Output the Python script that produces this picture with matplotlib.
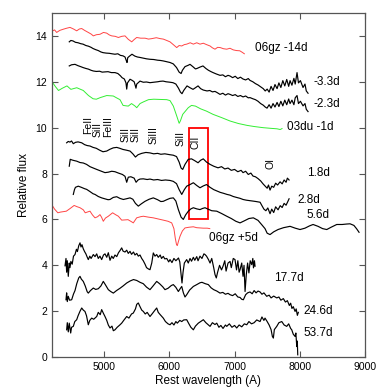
import matplotlib
matplotlib.use("Agg")
import matplotlib.pyplot as plt
from matplotlib.patches import Rectangle

plt.rcParams['font.family'] = ['Liberation Sans', 'DejaVu Sans']

# ---------------- data ----------------
wl_06gz_m14 = [4211, 4240, 4272, 4320, 4373, 4420, 4476, 4530, 4579, 4620, 4656, 4700, 4757, 4800, 4834, 4880,
               4936, 4990, 5039, 5080, 5116, 5170, 5218, 5270, 5320, 5370, 5423, 5460, 5499, 5560, 5627, 5680,
               5730, 5800, 5860, 5907, 5960, 6010, 6060, 6113, 6150, 6190, 6230, 6266, 6320, 6368, 6420, 6470,
               6521, 6570, 6624, 6660, 6700, 6740, 6780, 6830, 6880, 6930, 6980, 7030, 7080, 7120, 7150]
fx_06gz_m14 = [14.22, 14.26, 14.15, 14.24, 14.29, 14.33, 14.37, 14.30, 14.22, 14.30, 14.32, 14.24, 14.15, 14.08, 14.00, 14.05,
               14.07, 14.15, 14.12, 14.04, 14.00, 13.98, 13.93, 13.98, 14.00, 13.85, 13.74, 13.84, 13.93, 13.90, 13.90, 13.86,
               13.88, 13.92, 13.88, 13.86, 13.80, 13.74, 13.62, 13.49, 13.58, 13.56, 13.62, 13.64, 13.70, 13.64, 13.70, 13.64,
               13.68, 13.62, 13.56, 13.48, 13.42, 13.50, 13.49, 13.44, 13.42, 13.46, 13.39, 13.36, 13.35, 13.28, 13.22]

wl_m33 = [4465, 4490, 4522, 4560, 4600, 4640, 4676, 4720, 4760, 4800, 4829, 4870, 4910, 4950, 4982, 5030, 5080, 5120,
          5166, 5210, 5250, 5289, 5320, 5340, 5351, 5362, 5390, 5427, 5470, 5510, 5550, 5600, 5650, 5703, 5760, 5820,
          5860, 5903, 5950, 6010, 6060, 6110, 6150, 6180, 6200, 6240, 6290, 6317, 6360, 6400, 6424, 6470, 6516, 6560,
          6600, 6640, 6670, 6720, 6777, 6820, 6860, 6900, 6931, 6970, 7010, 7050, 7090, 7130, 7170, 7210, 7237, 7280,
          7320, 7360, 7400, 7440, 7470, 7500, 7530, 7560, 7590, 7620, 7652, 7680, 7710, 7740, 7770, 7800, 7830, 7851,
          7880, 7910, 7930, 7958, 7980, 8010, 8050, 8080, 8100, 8127]
fx_m33 = [13.74, 13.80, 13.78, 13.72, 13.70, 13.66, 13.64, 13.58, 13.55, 13.50, 13.45, 13.40, 13.36, 13.30, 13.27, 13.25,
          13.24, 13.22, 13.20, 13.22, 13.15, 13.13, 13.08, 12.92, 12.84, 13.05, 13.12, 13.20, 13.12, 13.08, 13.06, 13.03,
          13.00, 12.98, 12.97, 12.94, 12.93, 12.91, 12.88, 12.84, 12.78, 12.62, 12.42, 12.36, 12.50, 12.66, 12.72, 12.76,
          12.66, 12.56, 12.58, 12.64, 12.69, 12.58, 12.50, 12.44, 12.40, 12.34, 12.28, 12.30, 12.22, 12.28, 12.25, 12.18,
          12.24, 12.14, 12.20, 12.12, 12.08, 12.14, 12.06, 12.00, 11.92, 11.86, 11.78, 11.70, 11.60, 11.68, 11.55, 11.80,
          11.62, 11.88, 11.70, 11.95, 11.75, 12.05, 11.82, 12.10, 11.80, 12.05, 11.85, 12.15, 11.90, 12.40, 11.95, 12.05,
          11.75, 11.90, 11.60, 11.50]

wl_m23 = [4465, 4500, 4553, 4600, 4640, 4676, 4720, 4760, 4800, 4834, 4880, 4930, 4970, 5013, 5060, 5110, 5166, 5210,
          5250, 5274, 5310, 5335, 5346, 5358, 5397, 5430, 5460, 5476, 5488, 5500, 5550, 5600, 5650, 5703, 5760, 5820,
          5860, 5903, 5950, 6010, 6056, 6100, 6140, 6170, 6194, 6220, 6271, 6317, 6363, 6400, 6440, 6480, 6520, 6578,
          6620, 6660, 6700, 6732, 6777, 6820, 6860, 6900, 6931, 6970, 7010, 7050, 7090, 7130, 7170, 7210, 7237, 7280,
          7320, 7360, 7400, 7440, 7470, 7498, 7530, 7560, 7590, 7620, 7652, 7680, 7710, 7740, 7770, 7800, 7830, 7851,
          7880, 7910, 7930, 7958, 7980, 8010, 8050, 8080, 8100, 8127]
fx_m23 = [12.69, 12.74, 12.76, 12.70, 12.66, 12.62, 12.58, 12.55, 12.50, 12.47, 12.45, 12.46, 12.42, 12.43, 12.44, 12.40,
          12.40, 12.36, 12.26, 12.18, 12.12, 11.95, 11.68, 11.95, 12.11, 12.06, 12.00, 11.85, 11.72, 11.90, 12.03, 11.98,
          11.99, 11.96, 11.98, 12.00, 12.02, 12.03, 12.00, 11.98, 11.96, 11.90, 11.72, 11.55, 11.48, 11.62, 11.82, 11.74,
          11.67, 11.74, 11.82, 11.70, 11.64, 11.60, 11.62, 11.56, 11.58, 11.53, 11.45, 11.50, 11.42, 11.48, 11.45, 11.40,
          11.44, 11.36, 11.40, 11.34, 11.38, 11.30, 11.31, 11.26, 11.22, 11.15, 11.05, 10.98, 10.90, 10.85, 11.00, 10.85,
          11.05, 10.90, 11.10, 10.92, 11.15, 10.95, 11.20, 11.00, 11.25, 11.05, 11.20, 11.00, 11.30, 11.40, 11.05, 11.15,
          10.95, 11.05, 10.80, 10.70]

wl_03du = [4211, 4250, 4300, 4360, 4430, 4490, 4580, 4680, 4760, 4830, 4880, 4940, 5040, 5140, 5190, 5243, 5290, 5340,
           5370, 5420, 5470, 5500, 5550, 5600, 5680, 5760, 5860, 5960, 6010, 6061, 6113, 6150, 6170, 6205, 6290, 6340,
           6400, 6480, 6570, 6670, 6800, 6931, 7060, 7191, 7300, 7437, 7560, 7650, 7700, 7728]
fx_03du = [11.96, 11.80, 11.62, 11.72, 11.82, 11.67, 11.74, 11.62, 11.40, 11.26, 11.24, 11.31, 11.40, 11.38, 11.30, 11.22,
           10.97, 10.95, 10.94, 11.05, 10.95, 10.87, 11.05, 11.12, 11.22, 11.24, 11.23, 11.22, 11.18, 10.94, 10.51, 10.19,
           10.30, 10.58, 10.87, 10.97, 10.94, 10.82, 10.72, 10.58, 10.44, 10.29, 10.18, 10.10, 10.05, 10.00, 9.97, 9.95,
           9.92, 9.96]

wl_18 = [4425, 4450, 4476, 4500, 4527, 4560, 4600, 4656, 4700, 4740, 4783, 4830, 4880, 4930, 4982, 5039, 5090, 5140,
         5193, 5240, 5289, 5340, 5397, 5440, 5480, 5520, 5576, 5640, 5703, 5760, 5820, 5870, 5930, 6010, 6060, 6110,
         6150, 6180, 6205, 6240, 6290, 6340, 6390, 6440, 6480, 6520, 6570, 6624, 6680, 6746, 6800, 6850, 6900, 6950,
         7000, 7050, 7100, 7130, 7170, 7210, 7250, 7283, 7320, 7360, 7400, 7437, 7470, 7500, 7520, 7544, 7570, 7600,
         7630, 7660, 7698, 7730, 7760, 7790, 7810, 7836]
fx_18 = [9.34, 9.40, 9.37, 9.42, 9.30, 9.36, 9.38, 9.34, 9.26, 9.22, 9.20, 9.14, 9.10, 9.02, 8.95, 8.98, 9.06, 9.12,
         9.14, 9.10, 9.05, 9.02, 8.98, 8.86, 8.72, 8.82, 8.88, 8.92, 8.90, 8.86, 8.88, 8.84, 8.86, 8.82, 8.80, 8.74,
         8.50, 8.24, 8.18, 8.40, 8.62, 8.64, 8.56, 8.47, 8.58, 8.64, 8.50, 8.40, 8.32, 8.25, 8.30, 8.20, 8.24, 8.14,
         8.18, 8.08, 8.14, 8.04, 8.10, 7.96, 8.02, 7.89, 7.86, 7.78, 7.68, 7.55, 7.45, 7.36, 7.50, 7.28, 7.45, 7.40,
         7.58, 7.50, 7.64, 7.55, 7.72, 7.62, 7.80, 7.72]

wl_28 = [4465, 4480, 4520, 4579, 4630, 4680, 4730, 4783, 4834, 4886, 4940, 5013, 5064, 5116, 5166, 5220, 5280, 5320,
         5346, 5370, 5410, 5460, 5490, 5520, 5550, 5600, 5660, 5703, 5760, 5820, 5880, 5940, 6010, 6060, 6110, 6150,
         6190, 6230, 6266, 6317, 6368, 6420, 6470, 6520, 6570, 6624, 6680, 6730, 6780, 6830, 6885, 6930, 6980, 7030,
         7084, 7130, 7180, 7230, 7283, 7330, 7391, 7420, 7450, 7480, 7510, 7544, 7570, 7600, 7630, 7667, 7700, 7730,
         7760, 7790, 7820, 7836]
fx_28 = [8.32, 8.62, 8.58, 8.54, 8.48, 8.46, 8.40, 8.30, 8.24, 8.18, 8.12, 8.04, 8.06, 8.10, 8.08, 8.02, 7.96, 7.88,
         7.62, 7.84, 7.86, 7.80, 7.62, 7.72, 7.76, 7.77, 7.74, 7.76, 7.72, 7.74, 7.70, 7.72, 7.70, 7.66, 7.56, 7.30,
         7.09, 7.30, 7.45, 7.52, 7.60, 7.48, 7.38, 7.46, 7.52, 7.40, 7.30, 7.24, 7.18, 7.14, 7.09, 7.06, 7.00, 6.96,
         6.92, 6.87, 6.84, 6.82, 6.80, 6.78, 6.75, 6.60, 6.45, 6.38, 6.50, 6.25, 6.45, 6.30, 6.55, 6.42, 6.60, 6.52,
         6.70, 6.62, 6.80, 6.90]

wl_56 = [4527, 4545, 4560, 4603, 4650, 4700, 4732, 4780, 4830, 4860, 4910, 4962, 5010, 5060, 5090, 5140, 5193, 5240,
         5294, 5340, 5397, 5440, 5480, 5524, 5570, 5627, 5690, 5754, 5820, 5870, 5907, 5960, 6010, 6061, 6100, 6138,
         6180, 6214, 6250, 6291, 6330, 6368, 6420, 6470, 6510, 6547, 6600, 6650, 6727, 6800, 6880, 6950, 7020, 7084,
         7150, 7220, 7288, 7360, 7420, 7467, 7500, 7544, 7600, 7667, 7750, 7851, 7930, 8004, 8080, 8150, 8204, 8280,
         8350, 8414, 8480, 8567, 8650, 8720, 8771, 8830, 8870, 8909]
fx_56 = [7.09, 7.30, 7.40, 7.45, 7.40, 7.34, 7.31, 7.22, 7.12, 7.09, 7.00, 6.94, 6.90, 6.86, 6.87, 6.96, 6.99, 6.92,
         6.87, 6.90, 6.94, 6.88, 6.70, 6.58, 6.68, 6.79, 6.88, 6.94, 6.86, 6.78, 6.79, 6.86, 6.92, 6.94, 6.80, 6.43,
         6.10, 6.00, 6.20, 6.36, 6.46, 6.51, 6.46, 6.43, 6.48, 6.51, 6.44, 6.38, 6.36, 6.26, 6.14, 6.04, 5.92, 5.85,
         5.94, 6.04, 6.07, 5.96, 5.76, 5.60, 5.40, 5.34, 5.46, 5.56, 5.64, 5.70, 5.62, 5.56, 5.62, 5.72, 5.78, 5.70,
         5.60, 5.56, 5.66, 5.78, 5.78, 5.80, 5.81, 5.74, 5.60, 5.44]

wl_06gz_p5 = [4211, 4240, 4290, 4330, 4420, 4480, 4540, 4580, 4630, 4680, 4710, 4740, 4783, 4820, 4860, 4900, 4936,
              4960, 4987, 5020, 5064, 5130, 5180, 5218, 5269, 5320, 5366, 5420, 5447, 5499, 5560, 5601, 5680, 5754,
              5830, 5907, 5980, 6036, 6070, 6090, 6110, 6122, 6140, 6164, 6200, 6240, 6300, 6368, 6420, 6470, 6520,
              6580, 6620]
fx_06gz_p5 = [6.58, 6.45, 6.29, 6.32, 6.36, 6.48, 6.61, 6.56, 6.51, 6.42, 6.29, 6.32, 6.36, 6.20, 6.07, 6.12, 6.21,
              6.10, 5.92, 6.06, 6.14, 6.29, 6.20, 6.14, 5.97, 5.98, 5.99, 5.90, 5.85, 6.07, 6.12, 6.14, 6.10, 6.07,
              6.02, 5.97, 5.92, 5.85, 5.60, 5.20, 4.90, 4.86, 5.05, 5.27, 5.50, 5.63, 5.66, 5.68, 5.64, 5.63, 5.62,
              5.62, 5.60]

wl_177 = [4400, 4415, 4425, 4435, 4450, 4465, 4476, 4490, 4510, 4530, 4553, 4575, 4590, 4610, 4630, 4645, 4660, 4680,
          4700, 4720, 4740, 4757, 4780, 4800, 4834, 4860, 4886, 4910, 4936, 4962, 4990, 5013, 5040, 5064, 5090, 5116,
          5140, 5166, 5193, 5220, 5245, 5269, 5290, 5320, 5346, 5370, 5397, 5420, 5450, 5473, 5500, 5524, 5550, 5576,
          5600, 5627, 5650, 5680, 5703, 5730, 5754, 5780, 5806, 5830, 5860, 5880, 5907, 5930, 5960, 5990, 6010, 6040,
          6070, 6100, 6140, 6160, 6180, 6194, 6210, 6230, 6266, 6290, 6317, 6340, 6368, 6390, 6420, 6440, 6470, 6500,
          6530, 6547, 6570, 6600, 6624, 6650, 6680, 6700, 6720, 6740, 6770, 6800, 6823, 6850, 6870, 6900, 6931, 6950,
          6980, 7007, 7030, 7050, 7070, 7084, 7110, 7130, 7145, 7161, 7180, 7200, 7220, 7240, 7263, 7280, 7290, 7305,
          7314]
fx_177 = [3.98, 4.30, 3.70, 4.20, 3.52, 4.10, 3.90, 4.17, 4.05, 4.40, 4.47, 4.70, 4.60, 4.85, 4.98, 4.80, 4.90, 4.72,
          4.60, 4.50, 4.36, 4.25, 4.40, 4.30, 4.47, 4.38, 4.50, 4.30, 4.40, 4.25, 4.45, 4.50, 4.35, 4.55, 4.22, 4.40,
          4.30, 4.45, 4.38, 4.55, 4.65, 4.76, 4.62, 4.58, 4.66, 4.52, 4.61, 4.48, 4.58, 4.45, 4.52, 4.40, 4.45, 4.30,
          4.20, 4.05, 3.90, 3.84, 3.81, 4.10, 4.54, 4.40, 4.47, 4.35, 4.45, 4.30, 4.39, 4.28, 4.30, 4.15, 4.25, 4.12,
          4.30, 4.20, 4.32, 4.15, 3.60, 3.23, 3.70, 4.10, 4.25, 4.10, 4.30, 4.18, 4.35, 4.22, 4.38, 4.20, 4.40, 4.30,
          4.50, 4.47, 4.40, 4.25, 4.10, 4.30, 3.90, 3.60, 3.45, 3.70, 4.00, 3.80, 3.96, 4.20, 3.75, 4.10, 4.17, 3.90,
          4.30, 4.25, 3.80, 4.20, 3.70, 3.81, 4.10, 3.52, 4.00, 2.86, 3.60, 4.10, 3.67, 4.20, 4.03, 4.30, 3.89, 4.20,
          3.96]

wl_246 = [4415, 4425, 4435, 4450, 4470, 4502, 4530, 4553, 4580, 4610, 4630, 4650, 4680, 4710, 4740, 4757, 4790, 4834,
          4870, 4910, 4950, 4987, 5020, 5064, 5100, 5141, 5190, 5243, 5290, 5346, 5400, 5450, 5500, 5550, 5600, 5650,
          5703, 5750, 5806, 5850, 5900, 5933, 5980, 6030, 6061, 6100, 6138, 6170, 6190, 6215, 6240, 6266, 6310, 6368,
          6420, 6470, 6500, 6550, 6598, 6640, 6680, 6727, 6777, 6820, 6860, 6900, 6931, 6970, 7010, 7050, 7084, 7110,
          7135, 7170, 7200, 7237, 7270, 7300, 7330, 7360, 7391, 7420, 7450, 7493, 7530, 7560, 7600, 7647, 7680, 7710,
          7748, 7780, 7810, 7840, 7860, 7880, 7900, 7928, 7945, 7963, 7978]
fx_246 = [2.50, 2.80, 2.42, 2.65, 2.48, 2.50, 2.75, 2.90, 3.20, 3.45, 3.52, 3.40, 3.30, 3.10, 2.85, 2.79, 2.90, 3.01,
          2.95, 2.98, 3.10, 3.30, 3.15, 2.94, 2.86, 2.79, 2.90, 3.00, 3.10, 3.23, 3.32, 3.38, 3.34, 3.26, 3.20, 3.05,
          2.94, 3.10, 3.30, 3.20, 3.06, 2.94, 3.00, 3.12, 3.16, 3.04, 2.86, 3.00, 3.08, 2.80, 2.62, 2.72, 2.92, 3.08,
          3.16, 3.24, 3.26, 3.20, 3.16, 3.02, 2.94, 2.88, 2.79, 2.82, 2.74, 2.78, 2.72, 2.68, 2.76, 2.62, 2.60, 2.52,
          2.50, 2.72, 2.80, 2.84, 2.76, 2.90, 2.80, 2.88, 2.84, 2.74, 2.80, 2.65, 2.70, 2.58, 2.66, 2.58, 2.62, 2.48,
          2.55, 2.40, 2.46, 2.25, 2.35, 2.12, 2.20, 1.99, 2.10, 1.82, 1.95]

wl_537 = [4425, 4435, 4450, 4465, 4487, 4500, 4527, 4550, 4579, 4600, 4630, 4656, 4680, 4706, 4730, 4757, 4780, 4809,
          4840, 4886, 4910, 4940, 4962, 4990, 5013, 5040, 5064, 5090, 5120, 5141, 5166, 5200, 5240, 5269, 5300, 5346,
          5380, 5420, 5447, 5480, 5500, 5524, 5550, 5576, 5601, 5630, 5660, 5703, 5740, 5780, 5806, 5830, 5860, 5907,
          5940, 5980, 6010, 6040, 6070, 6100, 6122, 6160, 6190, 6220, 6266, 6300, 6330, 6368, 6400, 6444, 6480, 6521,
          6560, 6600, 6624, 6660, 6700, 6727, 6760, 6790, 6823, 6860, 6880, 6920, 6960, 7000, 7033, 7070, 7110, 7150,
          7187, 7220, 7260, 7300, 7340, 7391, 7420, 7450, 7467, 7500, 7530, 7560, 7580, 7595, 7610, 7647, 7680, 7724,
          7760, 7800, 7830, 7860, 7877, 7900, 7928, 7940, 7954, 7962, 7969]
fx_537 = [1.19, 1.50, 1.10, 1.48, 1.05, 1.30, 1.34, 1.55, 1.63, 1.80, 2.00, 2.14, 2.05, 1.99, 1.80, 1.41, 1.60, 1.70,
          1.65, 1.77, 1.95, 1.85, 2.07, 1.90, 1.77, 1.60, 1.40, 1.27, 1.35, 1.15, 1.19, 1.30, 1.40, 1.48, 1.60, 1.77,
          1.70, 1.88, 1.92, 2.10, 2.30, 2.36, 2.20, 2.05, 1.99, 1.88, 1.95, 1.77, 1.90, 2.05, 2.14, 1.95, 1.85, 1.70,
          1.55, 1.45, 1.41, 1.50, 1.40, 1.55, 1.48, 1.60, 1.55, 1.62, 1.63, 1.45, 1.30, 1.19, 1.35, 1.48, 1.55, 1.63,
          1.50, 1.40, 1.34, 1.50, 1.42, 1.48, 1.30, 1.38, 1.25, 1.40, 1.34, 1.45, 1.30, 1.38, 1.27, 1.40, 1.32, 1.45,
          1.41, 1.55, 1.45, 1.50, 1.62, 1.55, 1.75, 1.60, 1.70, 1.55, 1.40, 1.20, 0.90, 0.83, 1.20, 1.34, 1.50, 1.55,
          1.40, 1.34, 1.45, 1.25, 1.19, 1.00, 0.90, 1.05, 0.46, 0.70, 0.10]

spectra = [
    (wl_06gz_m14, fx_06gz_m14, '#ff4444', 0.7),
    (wl_m33, fx_m33, 'black', 0.85),
    (wl_m23, fx_m23, 'black', 0.85),
    (wl_03du, fx_03du, '#33ee33', 0.7),
    (wl_18, fx_18, 'black', 0.85),
    (wl_28, fx_28, 'black', 0.85),
    (wl_56, fx_56, 'black', 0.85),
    (wl_06gz_p5, fx_06gz_p5, '#ff4444', 0.7),
    (wl_177, fx_177, 'black', 0.85),
    (wl_246, fx_246, 'black', 0.85),
    (wl_537, fx_537, 'black', 0.85),
]

epoch_labels = ['06gz -14d', '-3.3d', '-2.3d', '03du -1d', '1.8d', '2.8d', '5.6d', '06gz +5d', '17.7d', '24.6d', '53.7d']
epoch_label_x = [7314, 8208, 8208, 7810, 8116, 7963, 8107, 6613, 7610, 8055, 8055]
epoch_label_y = [13.49, 11.99, 11.02, 10.01, 8.03, 6.83, 6.21, 5.20, 3.45, 1.99, 1.05]

line_ids = ['FeII', 'SiII', 'FeIII', 'SiII', 'SiII', 'SiIII', 'SiII', 'CII', 'OI']
line_id_x = [4750, 4905, 5065, 5324, 5478, 5760, 6168, 6398, 7544]
line_id_y = [9.72, 9.58, 9.58, 9.36, 9.36, 9.28, 9.21, 9.07, 8.18]

box_x = (6300, 6600)
box_y = (6.0, 10.0)

x_ticks = [5000, 6000, 7000, 8000, 9000]
y_ticks = [0, 2, 4, 6, 8, 10, 12, 14]

# ---------------- figure ----------------
fig = plt.figure(figsize=(3.85, 3.92), dpi=100)
ax = fig.add_axes([0.135, 0.089, 0.813, 0.878])

for wl, fx, col, lw in spectra:
    ax.plot(wl, fx, color=col, lw=lw)

for t, x, y in zip(epoch_labels, epoch_label_x, epoch_label_y):
    ax.text(x, y, t, fontsize=8.5, ha='left', va='center')

for t, x, y in zip(line_ids, line_id_x, line_id_y):
    ax.text(x, y, t, fontsize=7.5, rotation=90, ha='center', va='bottom', linespacing=1.0)

ax.add_patch(Rectangle((box_x[0], box_y[0]), box_x[1] - box_x[0], box_y[1] - box_y[0],
                       fill=False, edgecolor='red', lw=1.3))

ax.set_xlim(4200, 9000)
ax.set_ylim(0, 15)
ax.set_xticks(x_ticks)
ax.set_yticks(y_ticks)
ax.tick_params(direction='in', top=True, right=True, length=4, width=0.8,
               labelsize=7.5, color='#555555')
for s in ax.spines.values():
    s.set_color('#555555')
    s.set_linewidth(0.9)
ax.set_xlabel('Rest wavelength (A)', fontsize=8.5, labelpad=2)
ax.set_ylabel('Relative flux', fontsize=8.5, labelpad=4)

fig.savefig('out.png', dpi=100)
